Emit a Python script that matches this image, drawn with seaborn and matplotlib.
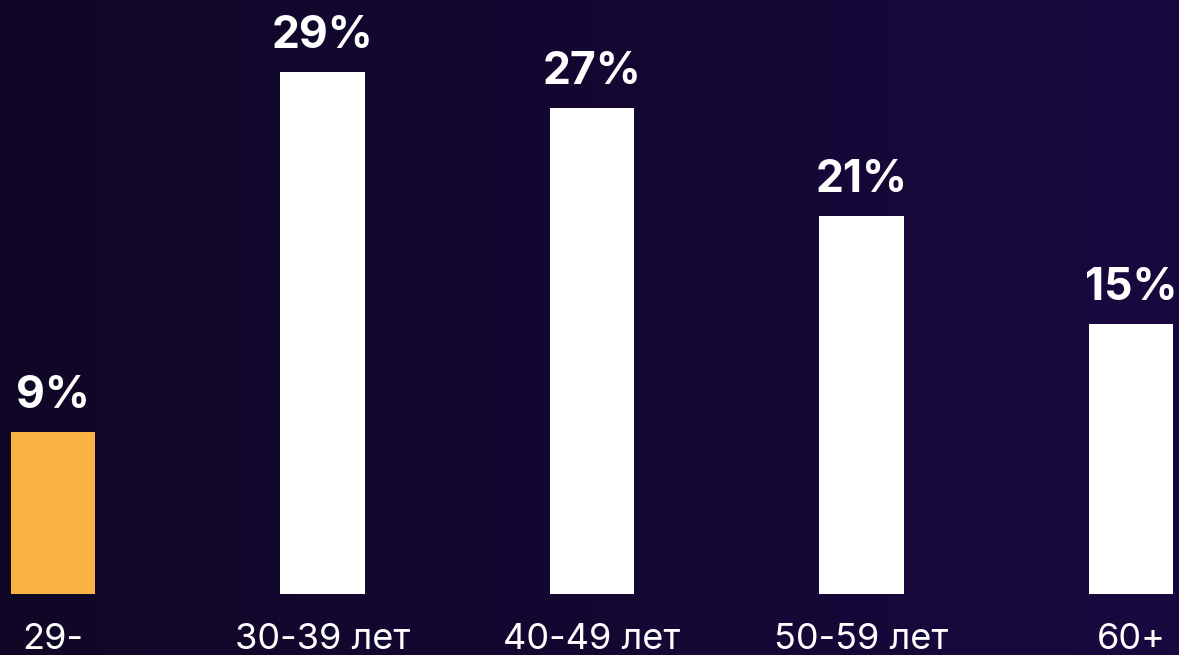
import numpy as np
import matplotlib
matplotlib.use('Agg')
import matplotlib.pyplot as plt
import seaborn as sns

categories = ['29-', '30-39 лет', '40-49 лет', '50-59 лет', '60+']
shares = [9, 29, 27, 21, 15]
bar_colors = ['#F9B342', '#FFFFFF', '#FFFFFF', '#FFFFFF', '#FFFFFF']

sns.set_style('white')
plt.rcParams['font.family'] = ['Inter', 'DejaVu Sans']

fig = plt.figure(figsize=(11.79, 6.55), dpi=100)

# background gradient, dark violet, a bit lighter on the right
bg = fig.add_axes([0, 0, 1, 1], zorder=0)
grad = np.linspace(0, 1, 256).reshape(1, -1)
cmap = matplotlib.colors.LinearSegmentedColormap.from_list('bg', ['#100727', '#18093f'])
bg.imshow(grad, aspect='auto', cmap=cmap, extent=[0, 1, 0, 1])
bg.axis('off')

ax = fig.add_axes([0, 61 / 655, 1, 594 / 655], zorder=1)
ax.patch.set_alpha(0)
sns.barplot(x=categories, y=shares, hue=categories, palette=bar_colors, legend=False,
            width=0.315, saturation=1, linewidth=0, ax=ax)

for cont in ax.containers:
    ax.bar_label(cont, fmt='%d%%', padding=11, color='white', fontsize=32, fontweight='bold')

ax.set_xlim(-53 / 269.5, 4 + 48 / 269.5)
ax.set_ylim(0, 33)
ax.set_yticks([])
ax.tick_params(axis='x', length=0, pad=21, labelsize=26, labelcolor='white')
for lab in ax.get_xticklabels():
    lab.set_verticalalignment('top')
ax.set_xlabel('')
ax.set_ylabel('')
sns.despine(ax=ax, left=True, bottom=True)

fig.savefig('out.png', dpi=100)
